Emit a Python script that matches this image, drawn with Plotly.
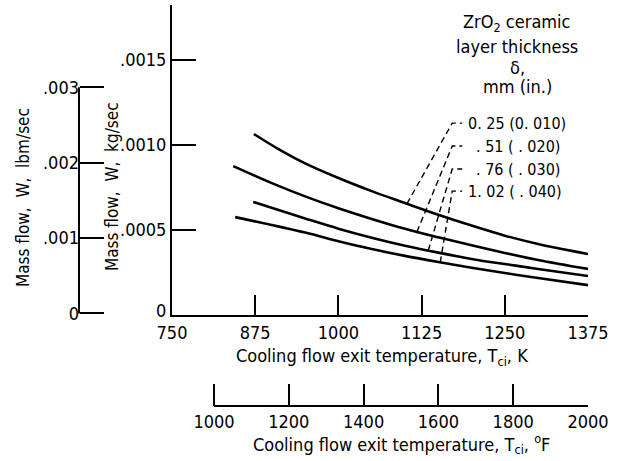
import numpy as np
import plotly.graph_objects as go

# ---------------- data ----------------
labels = ["0. 25 (0. 010)", ". 51 ( . 020)", ". 76 ( . 030)", "1. 02 ( . 040)"]

t_010 = [873, 910, 950, 1000, 1050, 1100, 1150, 1200, 1250, 1300, 1375]
w_010 = [0.001065, 0.000976, 0.000892, 0.000806, 0.000729, 0.000659, 0.000590, 0.000526, 0.000467, 0.000418, 0.000359]

t_020 = [842, 900, 950, 1000, 1050, 1100, 1150, 1200, 1250, 1300, 1375]
w_020 = [0.000876, 0.000776, 0.000698, 0.000628, 0.000565, 0.000507, 0.000457, 0.000410, 0.000365, 0.000324, 0.000271]

t_030 = [872, 950, 1000, 1050, 1100, 1150, 1200, 1250, 1300, 1375]
w_030 = [0.000665, 0.000568, 0.000508, 0.000455, 0.000408, 0.000367, 0.000330, 0.000300, 0.000271, 0.000229]

t_040 = [845, 950, 1000, 1050, 1100, 1150, 1200, 1250, 1300, 1375]
w_040 = [0.000576, 0.000485, 0.000434, 0.000388, 0.000348, 0.000312, 0.000278, 0.000247, 0.000218, 0.000176]

# leader lines: temperature where each leader meets its curve, and label level
leader_curve_K = [1103, 1118, 1135, 1153]
leader_top_K = [1171, 1171, 1171, 1171]
leader_stub_K = [1186, 1186, 1186, 1186]
leader_top_W = [0.001129, 0.000994, 0.000859, 0.000729]
label_K = [1192, 1203, 1203, 1192]

k_ticks = [750, 875, 1000, 1125, 1250, 1375]
f_ticks = [1000, 1200, 1400, 1600, 1800, 2000]
kg_ticks = [0.0005, 0.0010, 0.0015]
kg_ticktext = [".0005", ".0010", ".0015"]
lbm_ticks = [0, 0.001, 0.002, 0.003]
lbm_ticktext = ["0", ".001", ".002", ".003"]

header = ["ZrO<sub>2</sub> ceramic", "layer thickness", "\u03b4,", "mm (in.)"]

# ---------------- layout geometry ----------------
W, H = 622, 461
ML, MR, MT, MB = 20, 30, 5, 6
PW, PH = W - ML - MR, H - MT - MB


def px(x):
    return (x - ML) / PW


def py(y):
    return (H - MB - y) / PH


FONT = "Liberation Sans Narrow, Arial Narrow, DejaVu Sans Condensed, sans-serif"
KG_MAX = 0.001824
# lbm/sec scale as drawn in the original figure (slightly off the exact kg conversion)
LBM_RANGE = [-0.00002, 0.00409]
F_RANGE = [887.7, 2000]

fig = go.Figure()

series = [(t_010, w_010), (t_020, w_020), (t_030, w_030), (t_040, w_040)]
for (tx, wy), name in zip(series, labels):
    fig.add_trace(go.Scatter(x=tx, y=wy, mode="lines", name=name,
                             line=dict(color="black", width=2.6, shape="spline", smoothing=1.0),
                             showlegend=False, hoverinfo="skip"))

# leaders
for i, (tx, wy) in enumerate(series):
    yb = float(np.interp(leader_curve_K[i], tx, wy))
    fig.add_trace(go.Scatter(
        x=[leader_curve_K[i], leader_top_K[i], leader_stub_K[i]],
        y=[yb, leader_top_W[i], leader_top_W[i]],
        mode="lines", line=dict(color="black", width=1.4, dash="6px,4px"),
        showlegend=False, hoverinfo="skip"))
    fig.add_annotation(x=label_K[i], y=leader_top_W[i], xref="x", yref="y",
                       text=labels[i], showarrow=False, xanchor="left", yanchor="middle",
                       font=dict(family=FONT, size=16, color="black"))

# dummy traces to activate secondary axes
fig.add_trace(go.Scatter(x=[1000], y=[0], xaxis="x", yaxis="y2", mode="markers",
                         marker=dict(opacity=0), showlegend=False, hoverinfo="skip"))
fig.add_trace(go.Scatter(x=[1500], y=[0], xaxis="x2", yaxis="y", mode="markers",
                         marker=dict(opacity=0), showlegend=False, hoverinfo="skip"))

tickfont = dict(family=FONT, size=18, color="black")

fig.update_layout(
    template="none",
    width=W, height=H,
    margin=dict(l=ML, r=MR, t=MT, b=MB, autoexpand=False),
    paper_bgcolor="white", plot_bgcolor="rgba(0,0,0,0)",
    hovermode=False,
    xaxis=dict(domain=[px(172), px(588)], range=[750, 1375], anchor="y",
               tickvals=k_ticks, ticktext=[str(v) for v in k_ticks],
               ticks="inside", ticklen=20, tickwidth=2, tickcolor="black",
               showline=True, linewidth=2, linecolor="black", automargin=False,
               showgrid=False, zeroline=False, tickfont=tickfont),
    yaxis=dict(domain=[py(315), py(5)], range=[0, KG_MAX], anchor="x",
               tickvals=kg_ticks, ticktext=kg_ticktext,
               ticks="inside", ticklen=24, tickwidth=2, tickcolor="black",
               showline=True, linewidth=2, linecolor="black", automargin=False,
               showgrid=False, zeroline=False, tickfont=tickfont),
    yaxis2=dict(overlaying="y", anchor="free", position=px(79), side="left",
                range=LBM_RANGE,
                tickvals=lbm_ticks, ticktext=lbm_ticktext, automargin=False,
                ticks="inside", ticklen=24, tickwidth=2, tickcolor="black",
                showline=False, showgrid=False, zeroline=False, tickfont=tickfont),
    xaxis2=dict(overlaying="x", anchor="free", position=py(406), side="bottom",
                range=F_RANGE, tickvals=f_ticks, ticktext=[str(v) for v in f_ticks],
                ticks="inside", ticklen=22, tickwidth=2, tickcolor="black", automargin=False,
                ticklabelstandoff=3,
                showline=False, showgrid=False, zeroline=False, tickfont=tickfont),
)

# secondary axis lines
fig.add_shape(type="line", xref="paper", yref="y2", x0=px(79), x1=px(79),
              y0=lbm_ticks[0], y1=lbm_ticks[-1], line=dict(color="black", width=2))
fig.add_shape(type="line", xref="x2", yref="paper", x0=f_ticks[0], x1=f_ticks[-1],
              y0=py(406), y1=py(406), line=dict(color="black", width=2))

# zero label of the kg/sec axis (sits slightly above the corner in the original)
fig.add_annotation(x=px(172), y=0, xref="paper", yref="y", text="0", showarrow=False,
                   xanchor="right", yanchor="middle", xshift=-4, yshift=5, font=tickfont)

# titles
titfont = dict(family=FONT, size=18, color="black")
vfont = dict(family=FONT, size=17, color="black")
NB = "\u00a0"


def ann(x, y, text, font, angle=0):
    fig.add_annotation(x=px(x), y=py(y), xref="paper", yref="paper", showarrow=False,
                       xanchor="center", yanchor="middle", textangle=angle,
                       text=text, font=font)


ann(382, 357, "Cooling flow exit temperature, T<sub>ci</sub>, K", titfont)
ann(401, 444, "Cooling flow exit temperature, T<sub>ci</sub>, <sup>o</sup>F", titfont)
ann(23, 198, f"Mass flow,{NB}{NB}W,{NB}{NB}lbm/sec", vfont, -90)
ann(112, 187, f"Mass flow,{NB}{NB}W,{NB}{NB}kg/sec", vfont, -90)

hdr_y = [23, 46, 67, 87]
for txt, yy in zip(header, hdr_y):
    ann(517, yy, txt, titfont)

fig.write_html("out.html")
